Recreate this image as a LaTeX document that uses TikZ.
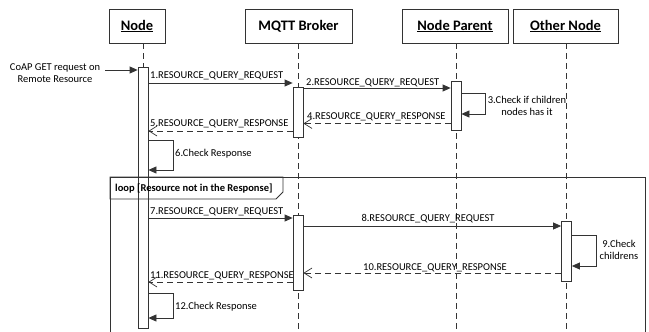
\documentclass[tikz,border=0pt]{standalone}
\usepackage{fontspec}
\setmainfont{Carlito}
\usetikzlibrary{arrows.meta}
\definecolor{ln}{HTML}{333333}
\tikzset{
  head/.style={draw=ln, line width=0.8pt, minimum height=34pt, inner sep=0pt, font=\fontsize{14.5}{16}\selectfont\bfseries},
  bar/.style={draw=ln, line width=0.8pt, fill=white, minimum width=10pt, inner sep=0pt},
  life/.style={draw=ln, line width=0.8pt, dash pattern=on 6pt off 4pt},
  msg/.style={draw=ln, line width=0.8pt, -{Triangle[length=8pt,width=7pt]}},
  ret/.style={draw=ln, line width=0.8pt, dash pattern=on 6pt off 4pt, -{Straight Barb[length=8pt,width=10pt,line width=0.7pt]}},
  lbl/.style={font=\fontsize{10.5}{12.5}\selectfont, inner sep=0pt},
}
\begin{document}
\begin{tikzpicture}[x=1pt,y=-1pt]
\useasboundingbox (0,0) rectangle (649,332);
\clip (0,0) rectangle (649,332);
\fill[white] (0,0) rectangle (649,332);

% headers
\node[head, minimum width=56pt] (hn) at (137,26) {\underline{Node}};
\node[head, minimum width=107pt] (hm) at (298.5,26) {MQTT Broker};
\node[head, minimum width=106pt] (hp) at (455,26) {\underline{Node Parent}};
\node[head, minimum width=105pt] (ho) at (565.5,26) {\underline{Other Node}};

% lifelines
\coordinate (en) at (143,340);
\coordinate (em) at (298,340);
\coordinate (ep) at (456,340);
\coordinate (eo) at (566.5,340);
\draw[life] (hn.south -| en) -- (en);
\draw[life] (hm.south -| em) -- (em);
\draw[life] (hp.south -| ep) -- (ep);
\draw[life] (ho.south -| eo) -- (eo);

% activation bars
\node[bar, minimum height=261pt] (nb) at (143,197.5) {};
\node[bar, minimum height=50pt] (mb1) at (298,112) {};
\node[bar, minimum height=49pt] (pb) at (456,105.5) {};
\node[bar, minimum height=75pt] (mb2) at (298,252.5) {};
\node[bar, minimum height=60pt] (ob) at (566.5,251) {};

% external request
\node[lbl, align=center] (coap) at (55,73) {CoAP GET request on\\Remote Resource};
\coordinate (cs) at (105,70);
\draw[msg] (cs) -- (nb.west |- cs);

% messages
\draw[msg] (nb.east |- 0,83) -- (mb1.west |- 0,83);
\node[lbl, anchor=base west] (l1) at (150,78) {1.RESOURCE\_QUERY\_REQUEST};

\draw[msg] (mb1.east |- 0,88) -- (pb.west |- 0,88);
\node[lbl, anchor=base west] (l2) at (306,85) {2.RESOURCE\_QUERY\_REQUEST};

\draw[msg] (pb.east |- 0,93) -- ++(24,0) |- (pb.east |- 0,114);
\node[lbl, align=center] (l3) at (527,106) {3.Check if children\\nodes has it};

\draw[ret] (pb.west |- 0,123.5) -- (mb1.east |- 0,123.5);
\node[lbl, anchor=base west] (l4) at (307,119.5) {4.RESOURCE\_QUERY\_RESPONSE};

\draw[ret] (mb1.west |- 0,131) -- (nb.east |- 0,131);
\node[lbl, anchor=base west] (l5) at (150,126.5) {5.RESOURCE\_QUERY\_RESPONSE};

\draw[msg] (nb.east |- 0,140) -- ++(25,0) |- (nb.east |- 0,170);
\node[lbl, anchor=west] (l6) at (175,154) {6.Check Response};

% loop frame
\draw[draw=ln, line width=0.8pt] (110,340) -- (110,177) -- (645,177) -- (645,340);
\draw[draw=ln, line width=0.8pt] (110,177) -- (283,177) -- (283,192) -- (276,199) -- (110,199) -- cycle;
\node[lbl, font=\fontsize{10.5}{12.5}\selectfont\bfseries, anchor=west] (lp) at (115,188.5) {loop [Resource not in the Response]};

\draw[msg] (nb.east |- 0,218) -- (mb2.west |- 0,218);
\node[lbl, anchor=base west] (l7) at (150,214) {7.RESOURCE\_QUERY\_REQUEST};

\draw[msg] (mb2.east |- 0,226) -- (ob.west |- 0,226);
\node[lbl, anchor=base] (l8) at (428,221.5) {8.RESOURCE\_QUERY\_REQUEST};

\draw[msg] (ob.east |- 0,235) -- ++(24,0) |- (ob.east |- 0,266);
\node[lbl, align=center] (l9) at (619,250) {9.Check\\childrens};

\draw[ret] (ob.west |- 0,273) -- (mb2.east |- 0,273);
\node[lbl, anchor=base] (l10) at (435,270) {10.RESOURCE\_QUERY\_RESPONSE};

\draw[ret] (mb2.west |- 0,282) -- (nb.east |- 0,282);
\node[lbl, anchor=base west] (l11) at (150,278.5) {11.RESOURCE\_QUERY\_RESPONSE};

\draw[msg] (nb.east |- 0,293) -- ++(25,0) |- (nb.east |- 0,318);
\node[lbl, anchor=west] (l12) at (175,307) {12.Check Response};
\end{tikzpicture}
\end{document}
